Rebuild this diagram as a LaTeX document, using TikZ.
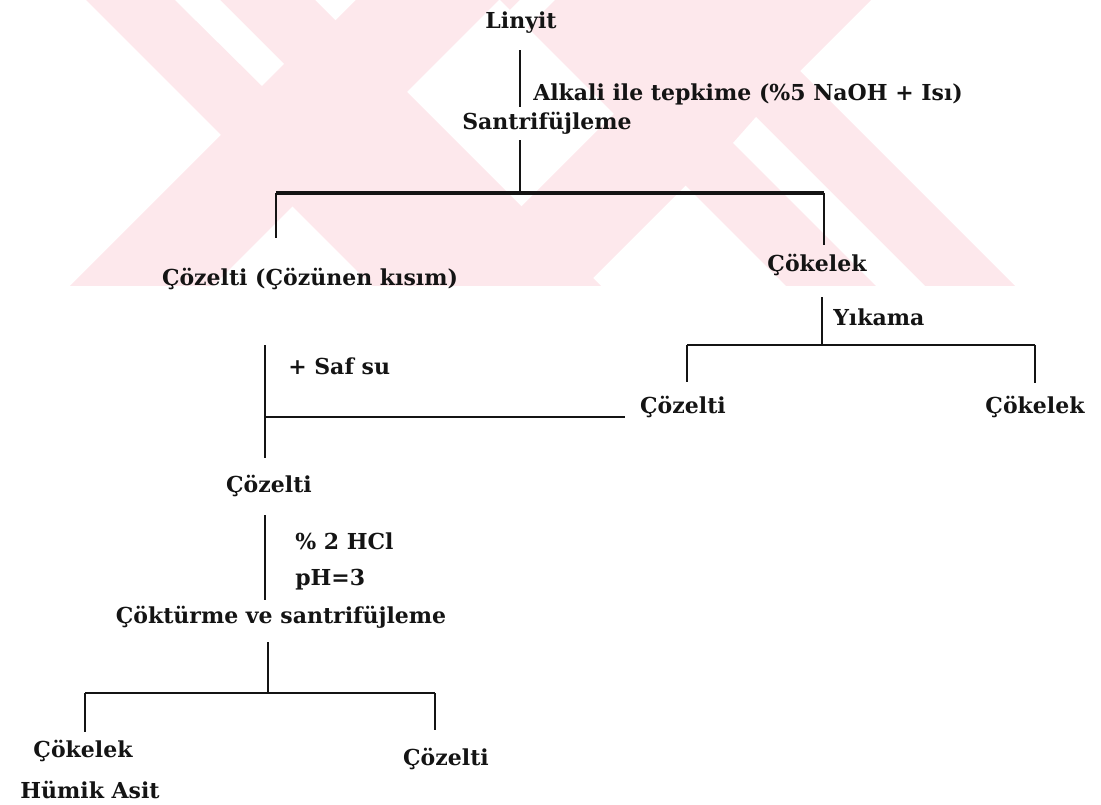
\documentclass[tikz,border=0pt]{standalone}
\usepackage{xcolor}
\definecolor{mark-pink}{HTML}{FDE8EC}
\definecolor{scan-black}{HTML}{141414}
\usepackage{fontspec}
\setmainfont{DejaVu Serif}
\usepackage{tikz}

\tikzset{
    chem/.style={inner sep=0pt, text height=12.75pt, text depth=3.75pt,
        font=\fontsize{16.5}{18}\selectfont\bfseries, text=scan-black},
    link/.style={draw=scan-black, line width=1.3pt},
    rail/.style={draw=scan-black, line width=1.8pt},
}

\begin{document}
\begin{tikzpicture}[x=0.75pt, y=-0.75pt]

    \useasboundingbox (0, 0) rectangle (1101, 805);

    % Watermark
    \fill[mark-pink] (86, 0) -- (315, 0) -- (601, 286) -- (372, 286) -- cycle;
    \fill[mark-pink] (356, 0) -- (499, 0) -- (213, 286) -- (70, 286) -- cycle;
    \fill[mark-pink] (500, 0) -- (729, 0) -- (1015, 286) -- (786, 286) -- cycle;
    \fill[mark-pink] (728, 0) -- (871, 0) -- (585, 286) -- (442, 286) -- cycle;
    \fill[white] (175, 0) -- (220, 0) -- (284, 64) -- (262, 86) -- cycle;
    \fill[white] (733, 143) -- (756, 117) -- (925, 286) -- (876, 286) -- cycle;
    \fill[white] (520, 0) -- (555, 0) -- (470, 85) -- (452, 68) -- cycle;

    % Steps
    \node[chem] (linyit) at (521, 23) {Linyit};
    \node[chem, anchor=west] (alkali) at (533, 95) {Alkali ile tepkime (\%5 NaOH + Isı)};
    \node[chem] (santri) at (547, 124) {Santrifüjleme};
    \node[chem] (cozunen) at (310, 280) {Çözelti (Çözünen kısım)};
    \node[chem] (cokelek) at (817, 266) {Çökelek};
    \node[chem, anchor=west] (yikama) at (833, 320) {Yıkama};
    \node[chem] (yikcoz) at (683, 408) {Çözelti};
    \node[chem] (yikcok) at (1035, 408) {Çökelek};
    \node[chem, anchor=west] (safsu) at (288, 369) {+ Saf su};
    \node[chem] (cozelti) at (269, 487) {Çözelti};
    \node[chem, anchor=west] (hcl) at (295, 544) {\% 2 HCl};
    \node[chem, anchor=west] (ph) at (295, 580) {pH=3};
    \node[chem] (coktur) at (281, 618) {Çöktürme ve santrifüjleme};
    \node[chem] (humcok) at (83, 752) {Çökelek};
    \node[chem] (humik) at (90, 792) {Hümik Asit};
    \node[chem] (soncoz) at (446, 760) {Çözelti};

    % Forks
    \coordinate (fork1) at (520, 193);
    \coordinate (fork1l) at (276, 193);
    \coordinate (fork1r) at (824, 193);
    \coordinate (fork2) at (822, 345);
    \coordinate (fork2l) at (687, 345);
    \coordinate (fork2r) at (1035, 345);
    \coordinate (mix) at (265, 417);
    \coordinate (fork3) at (268, 693);
    \coordinate (fork3l) at (85, 693);
    \coordinate (fork3r) at (435, 693);

    % Lines
    \draw[link, shorten <=12pt, shorten >=4.5pt] (linyit.south -| fork1) -- (santri.north -| fork1);
    \draw[link, shorten <=3.75pt] (santri.south -| fork1) -- (fork1);
    \draw[rail, line width=2.6pt] (fork1l) -- (fork1r);
    \draw[link, shorten >=23pt] (fork1l) -- (cozunen.north -| fork1l);
    \draw[link, shorten >=7.5pt] (fork1r) -- (cokelek.north -| fork1r);

    \draw[link, shorten <=15pt] (cokelek.south -| fork2) -- (fork2);
    \draw[rail] (fork2l) -- (fork2r);
    \draw[link, shorten >=11pt] (fork2l) -- (yikcoz.north -| fork2l);
    \draw[link, shorten >=10.5pt] (fork2r) -- (yikcok.north -| fork2r);

    \draw[link, shorten <=40.5pt, shorten >=13.5pt] (cozunen.south -| mix) -- (cozelti.north -| mix);
    \draw[link, shorten >=11pt] (mix) -- (mix -| yikcoz.west);

    \draw[link, shorten <=12.75pt, shorten >=5.25pt] (cozelti.south -| mix) -- (coktur.north -| mix);
    \draw[link, shorten <=9.75pt] (coktur.south -| fork3) -- (fork3);
    \draw[rail] (fork3l) -- (fork3r);
    \draw[link, shorten >=6.75pt] (fork3l) -- (humcok.north -| fork3l);
    \draw[link, shorten >=14.25pt] (fork3r) -- (soncoz.north -| fork3r);

\end{tikzpicture}
\end{document}
